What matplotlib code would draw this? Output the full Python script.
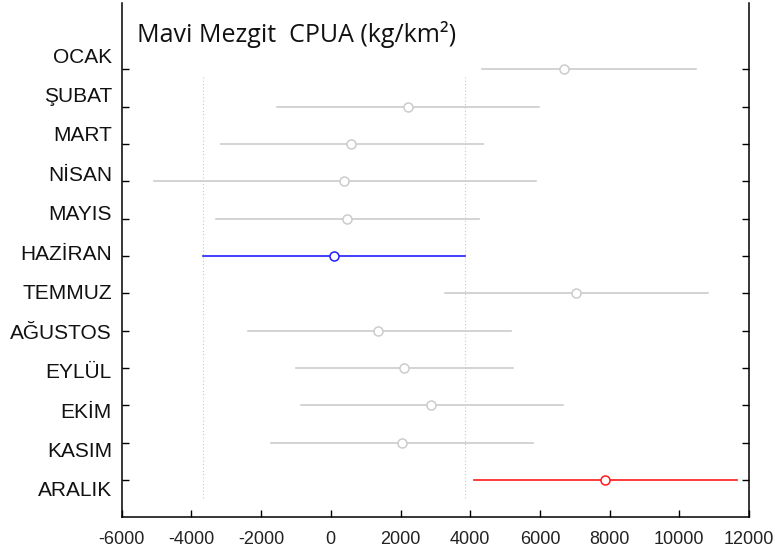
import numpy as np
import matplotlib.pyplot as plt

# months, top to bottom
months = ["OCAK", "ŞUBAT", "MART", "NİSAN", "MAYIS", "HAZİRAN",
          "TEMMUZ", "AĞUSTOS", "EYLÜL", "EKİM", "KASIM", "ARALIK"]
# estimated means and comparison interval ends (kg/km2)
means = [6690, 2218, 585, 393, 470, 106, 7040, 1367, 2097, 2885, 2054, 7871]
lower = [4350, -1556, -3160, -5080, -3284, -3668, 3287, -2378, -1011, -868, -1728, 4117]
upper = [10470, 5980, 4375, 5885, 4261, 3860, 10822, 5178, 5235, 6668, 5808, 11653]
xticks = [-6000, -4000, -2000, 0, 2000, 4000, 6000, 8000, 10000, 12000]

selected = "HAZİRAN"   # blue group
different = ["ARALIK"]  # red groups

fig = plt.figure(figsize=(7.75, 5.54), dpi=100)
ax = fig.add_axes([0.157, 0.0673, 0.8095, 0.9273])

n = len(months)
ypos = np.arange(n, 0, -1)

grey = "#cccccc"
for m, y, mu, lo, hi in zip(months, ypos, means, lower, upper):
    if m == selected:
        c = "#2020ff"
    elif m in different:
        c = "#ff1a1a"
    else:
        c = grey
    ax.plot([lo, hi], [y, y], color=c, lw=1.2, zorder=2)
    ax.plot(mu, y, "o", mfc="white", mec=c, ms=6.5, mew=1.1, zorder=3)

# dotted lines at the selected group's interval ends
i_sel = months.index(selected)
ax.vlines([lower[i_sel], upper[i_sel]], 0.52, 11.8, colors="#c8c8c8",
          linestyles=(0, (1, 2)), lw=0.8, zorder=1)

ax.set_xlim(-6000, 12000)
ax.set_ylim(0.017, 13.776)
ax.set_xticks(xticks)
ax.set_xticklabels([str(v) for v in xticks], fontfamily="Liberation Sans",
                   fontsize=13, color="#222222")
ax.set_yticks(ypos)
ax.set_yticklabels([])
ax.tick_params(axis="x", direction="in", length=5, width=1, pad=10, top=False)
ax.tick_params(axis="y", direction="in", length=5, width=1, left=True, right=True)
ax.spines["top"].set_visible(False)
for s in ["left", "right", "bottom"]:
    ax.spines[s].set_linewidth(1.1)

# month labels sit on a slightly wider spacing than the ticks
step = 39.45 / 37.34
first = 12 + 12.3 / 37.34
for i, m in enumerate(months):
    ax.text(-0.0155, first - i * step, m, transform=ax.get_yaxis_transform(),
            ha="right", va="center", fontfamily="Liberation Sans", fontsize=15,
            color="#111111")

fig.text(137 / 775, 1 - 41.5 / 554, "Mavi Mezgit  CPUA (kg/km²)",
         fontfamily="Open Sans", fontsize=18, ha="left", va="baseline",
         color="#111111")

fig.savefig("out.png", dpi=100)
